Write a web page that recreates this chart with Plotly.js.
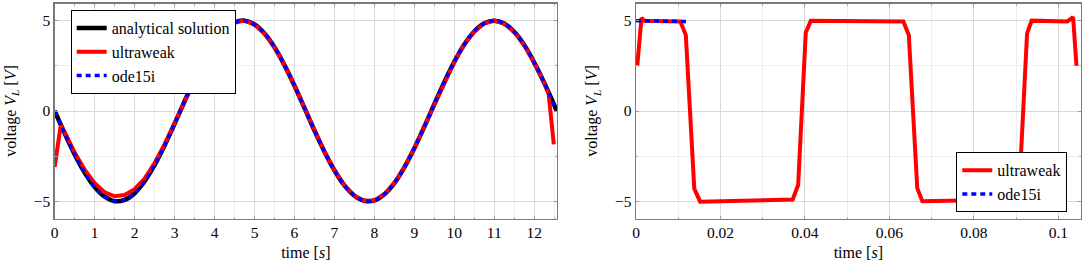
<!DOCTYPE html>
<html>
<head>
<meta charset="utf-8">
<script src="https://cdn.plot.ly/plotly-3.0.1.min.js"></script>
<style>html,body{margin:0;padding:0;background:#fff;}#chart{width:1084px;height:264px;}</style>
</head>
<body>
<div id="chart"></div>
<script>
// ---- Left panel data (time in s, voltage in V) ----
const timeLeft = [0,0.25,0.5,0.75,1.0,1.25,1.5,1.75,2.0,2.25,2.5,2.75,3.0,3.25,3.5,3.75,4.0,4.25,4.5,4.75,5.0,5.25,5.5,5.75,6.0,6.25,6.5,6.75,7.0,7.25,7.5,7.75,8.0,8.25,8.5,8.75,9.0,9.25,9.5,9.75,10.0,10.25,10.5,10.75,11.0,11.25,11.5,11.75,12.0,12.25,12.5,12.566];
const analytical = [0,-1.24,-2.40,-3.41,-4.21,-4.74,-4.99,-4.92,-4.55,-3.89,-2.99,-1.91,-0.71,0.54,1.75,2.86,3.78,4.48,4.89,5.00,4.79,4.29,3.53,2.54,1.40,0.17,-1.08,-2.25,-3.28,-4.12,-4.69,-4.97,-4.95,-4.61,-3.99,-3.12,-2.06,-0.87,0.38,1.60,2.72,3.68,4.40,4.85,5.00,4.84,4.38,3.65,2.68,1.56,0.33,0];
const ode15iLeft = [0,-1.24,-2.40,-3.41,-4.21,-4.74,-4.99,-4.92,-4.55,-3.89,-2.99,-1.91,-0.71,0.54,1.75,2.86,3.78,4.48,4.89,5.00,4.79,4.29,3.53,2.54,1.40,0.17,-1.08,-2.25,-3.28,-4.12,-4.69,-4.97,-4.95,-4.61,-3.99,-3.12,-2.06,-0.87,0.38,1.60,2.72,3.68,4.40,4.85,5.00,4.84,4.38,3.65,2.68,1.56,0.33,0.15];
const timeUltraLeft = [0,0.15,0.25,0.5,0.75,1.0,1.25,1.5,1.75,2.0,2.25,2.5,2.75,3.0,3.25,3.5,3.75,4.0,4.25,4.5,4.75,5.0,5.25,5.5,5.75,6.0,6.25,6.5,6.75,7.0,7.25,7.5,7.75,8.0,8.25,8.5,8.75,9.0,9.25,9.5,9.75,10.0,10.25,10.5,10.75,11.0,11.25,11.5,11.75,12.0,12.25,12.36,12.49];
const ultraLeft = [-3.1,-0.8,-1.18,-2.30,-3.25,-4.00,-4.50,-4.72,-4.65,-4.33,-3.74,-2.88,-1.85,-0.68,0.54,1.75,2.86,3.78,4.48,4.89,5.00,4.79,4.29,3.53,2.54,1.40,0.17,-1.08,-2.25,-3.28,-4.12,-4.69,-4.97,-4.95,-4.61,-3.99,-3.12,-2.06,-0.87,0.38,1.60,2.72,3.68,4.40,4.85,5.00,4.84,4.38,3.65,2.68,1.56,0.95,-1.85];

// ---- Right panel data ----
const timeUltraRight = [0.0003,0.0013,0.002,0.0105,0.0118,0.0138,0.0152,0.0371,0.0384,0.0402,0.0414,0.0633,0.0646,0.0666,0.0678,0.0895,0.0908,0.0926,0.0937,0.1021,0.1035,0.1043];
const ultraRight = [2.5,5.15,5.0,4.95,4.2,-4.3,-5.02,-4.9,-4.1,4.35,5.0,4.95,4.2,-4.27,-5.0,-4.9,-4.1,4.3,5.0,4.95,5.2,2.5];
const timeOdeRight = [0,0.0124];
const odeRight = [5.0,4.95];

// ---- Tick values ----
const leftXTicks = [0,1,2,3,4,5,6,7,8,9,10,11,12];
const rightXTicks = [0,0.02,0.04,0.06,0.08,0.1];
const rightXTickLabels = ['0','0.02','0.04','0.06','0.08','0.1'];
const yTicks = [-5,0,5];

const FONT = 'Liberation Serif, DejaVu Serif, serif';
const RED = '#ff0000', BLUE = '#0000ff', BLACK = '#000000';
const blueDash = '5px,4px';

const traces = [
  {x: timeLeft, y: analytical, name: 'analytical solution', mode: 'lines', line: {color: BLACK, width: 4.5, shape: 'spline', smoothing: 1}, xaxis: 'x', yaxis: 'y', legend: 'legend'},
  {x: timeUltraLeft, y: ultraLeft, name: 'ultraweak', mode: 'lines', line: {color: RED, width: 4}, xaxis: 'x', yaxis: 'y', legend: 'legend'},
  {x: timeLeft, y: ode15iLeft, name: 'ode15i', mode: 'lines', line: {color: BLUE, width: 3.5, dash: blueDash, shape: 'spline', smoothing: 1}, xaxis: 'x', yaxis: 'y', legend: 'legend'},
  {x: timeUltraRight, y: ultraRight, name: 'ultraweak', mode: 'lines', line: {color: RED, width: 4}, xaxis: 'x2', yaxis: 'y2', legend: 'legend2'},
  {x: timeOdeRight, y: odeRight, name: 'ode15i', mode: 'lines', line: {color: BLUE, width: 3.5, dash: blueDash}, xaxis: 'x2', yaxis: 'y2', legend: 'legend2'}
];

const W = 1084, H = 264;
const TICKSIZE = 15.5, TITLESIZE = 16, LEGSIZE = 16;
const minorGrid = {showgrid: true, gridcolor: '#eeeeee', ticks: 'inside', ticklen: 2, tickcolor: '#b0b0b0'};
function ax(extra) {
  const base = {
    showline: true, linecolor: '#7a7a7a', linewidth: 1.3, mirror: 'ticks',
    ticks: 'inside', ticklen: 3, tickcolor: '#9a9a9a', tickwidth: 1,
    showgrid: true, gridcolor: '#d8d8d8', gridwidth: 1,
    zeroline: false,
    tickfont: {family: FONT, size: TICKSIZE, color: '#000'}
  };
  return Object.assign(base, extra);
}
const yTitle = () => ({text: 'voltage <i>V</i><sub><i>L</i></sub> [<i>V</i>]', standoff: 13, font: {family: FONT, size: TITLESIZE, color: '#000'}});
const xTitle = () => ({text: 'time [<i>s</i>]', standoff: 6, font: {family: FONT, size: TITLESIZE, color: '#000'}});

const yDomain = [(H - 218.5) / H, (H - 3.5) / H];

const layout = {
  width: W, height: H,
  margin: {l: 0, r: 0, t: 0, b: 0},
  paper_bgcolor: '#fff', plot_bgcolor: '#fff',
  font: {family: FONT, size: 15, color: '#000'},
  showlegend: true,
  xaxis: ax({domain: [54.7 / W, 557 / W], range: [0, 12.57], tickmode: 'array', tickvals: leftXTicks,
    minor: Object.assign({dtick: 0.5, tick0: 0}, minorGrid), title: xTitle(), anchor: 'y'}),
  yaxis: ax({domain: yDomain, range: [-5.95, 5.95], tickmode: 'array', tickvals: yTicks,
    minor: Object.assign({dtick: 2.5, tick0: 0}, minorGrid), title: yTitle(), anchor: 'x'}),
  xaxis2: ax({domain: [636 / W, 1080.7 / W], range: [0, 0.1053], tickmode: 'array', tickvals: rightXTicks, ticktext: rightXTickLabels,
    minor: Object.assign({dtick: 0.01, tick0: 0}, minorGrid), title: xTitle(), anchor: 'y2'}),
  yaxis2: ax({domain: yDomain, range: [-5.95, 5.95], tickmode: 'array', tickvals: yTicks,
    minor: Object.assign({dtick: 2.5, tick0: 0}, minorGrid), title: yTitle(), anchor: 'x2'}),
  legend: {x: 70.7 / W, y: (H - 10) / H, xanchor: 'left', yanchor: 'top', bgcolor: '#fff', bordercolor: '#000', borderwidth: 1,
    font: {family: FONT, size: LEGSIZE, color: '#000'}, tracegroupgap: 0},
  legend2: {x: 1067.3 / W, y: (H - 212.3) / H, xanchor: 'right', yanchor: 'bottom', bgcolor: '#fff', bordercolor: '#000', borderwidth: 1,
    font: {family: FONT, size: LEGSIZE, color: '#000'}, tracegroupgap: 0}
};

Plotly.newPlot('chart', traces, layout, {staticPlot: true, displayModeBar: false});
</script>
</body>
</html>
